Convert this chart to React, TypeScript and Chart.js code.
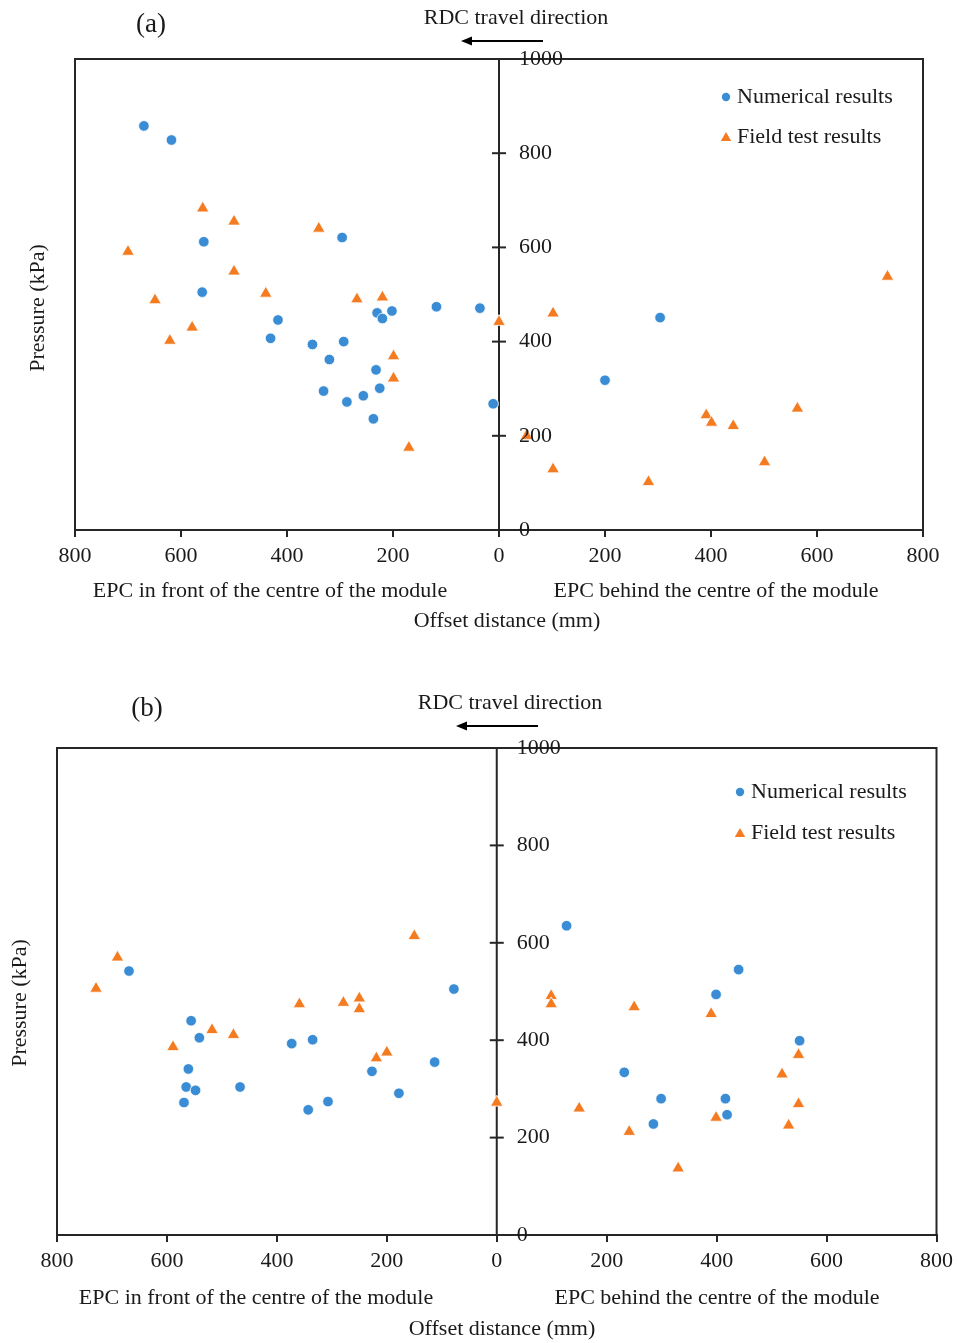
import React, { useEffect, useRef } from "react";
import { Chart, registerables } from "chart.js";

Chart.register(...registerables);

// ---------- Data (offset in mm: negative = in front of module centre; pressure in kPa) ----------
// Panel (a)
const aNumX = [-670, -618, -557, -296, -560, -230, -220, -202, -118, -36, -417, -431, -352, -293, -320, -232, -331, -225, -256, -287, -11, -237, 200, 304];
const aNumY = [858, 828, 612, 621, 505, 461, 449, 465, 474, 471, 446, 407, 394, 400, 362, 340, 295, 301, 285, 272, 268, 236, 318, 451];
const aFieldX = [-559, -500, -340, -700, -500, -649, -440, -268, -220, 0, -579, -621, -199, -199, -170, 733, 102, 52, 391, 401, 442, 563, 501, 102, 282];
const aFieldY = [683, 655, 640, 591, 549, 488, 502, 490, 494, 442, 430, 402, 369, 322, 175, 538, 460, 200, 244, 228, 221, 258, 144, 129, 102];

// Panel (b)
const bNumX = [-669, -78, -556, -541, -373, -335, -113, -561, -227, -565, -548, -467, -178, -307, -569, -343, 127, 440, 399, 551, 232, 299, 416, 419, 285];
const bNumY = [542, 505, 440, 405, 393, 401, 355, 341, 336, 304, 297, 304, 291, 274, 272, 257, 635, 545, 494, 399, 334, 280, 280, 247, 228];
const bFieldX = [-150, -690, -729, -359, -279, -250, -250, -518, -479, -589, -200, -219, 0, 99, 99, 250, 390, 549, 519, 549, 150, 399, 531, 241, 330];
const bFieldY = [614, 570, 506, 474, 477, 486, 464, 421, 411, 386, 375, 363, 272, 491, 474, 468, 454, 370, 330, 269, 260, 241, 225, 212, 137];

const xMin = -800;
const xMax = 800;
const xStep = 200;
const yMin = 0;
const yMax = 1000;
const yStep = 200;

const seriesNames = ["Numerical results", "Field test results"];
const xTitle = "Offset distance (mm)";
const yTitle = "Pressure (kPa)";
const frontLabel = "EPC in front of the centre of the module";
const behindLabel = "EPC behind the centre of the module";
const directionLabel = "RDC travel direction";

const BLUE = "#3a8dd4";
const ORANGE = "#f47b20";
const INK = "#1a1a1a";
const LINE = "#262626";
const FONT = '"Liberation Serif", "Times New Roman", serif';

type Layout = {
  height: number;
  padding: { top: number; left: number; right: number; bottom: number };
  panel: string;
  panelPos: [number, number];
  dirPos: [number, number];
  arrow: [number, number, number];
  epcY: number;
  frontX: number;
  behindX: number;
  titleX: number;
  titleY: number;
  yTitlePos: [number, number];
  legendX: number;
  legendY: [number, number];
};

function drawTriangle(ctx: CanvasRenderingContext2D, x: number, y: number, r: number) {
  ctx.beginPath();
  ctx.moveTo(x, y - r);
  ctx.lineTo(x + r * 0.866, y + r * 0.5);
  ctx.lineTo(x - r * 0.866, y + r * 0.5);
  ctx.closePath();
  ctx.fill();
}

function makeDecor(L: Layout) {
  return {
    id: "decor",
    beforeDatasetsDraw(chart: any) {
      const ctx: CanvasRenderingContext2D = chart.ctx;
      const { left, right, top, bottom } = chart.chartArea;
      const xs = chart.scales.x;
      const ys = chart.scales.y;
      ctx.save();
      ctx.strokeStyle = LINE;
      ctx.lineWidth = 2;
      ctx.strokeRect(left, top, right - left, bottom - top);
      const x0 = xs.getPixelForValue(0);
      ctx.beginPath();
      ctx.moveTo(x0, top);
      ctx.lineTo(x0, bottom);
      ctx.stroke();
      ys.ticks.forEach((t: any) => {
        const y = ys.getPixelForValue(t.value);
        ctx.beginPath();
        ctx.moveTo(x0 - 7, y);
        ctx.lineTo(x0 + 7, y);
        ctx.stroke();
      });
      ctx.restore();
    },
    afterDatasetsDraw(chart: any) {
      const ctx: CanvasRenderingContext2D = chart.ctx;
      const xs = chart.scales.x;
      const ys = chart.scales.y;
      const x0 = xs.getPixelForValue(0);
      ctx.save();
      ctx.fillStyle = INK;
      ctx.font = `22px ${FONT}`;
      ctx.textAlign = "left";
      ctx.textBaseline = "middle";
      ys.ticks.forEach((t: any) => {
        ctx.fillText(String(t.value), x0 + 20, ys.getPixelForValue(t.value));
      });

      // legend
      ctx.fillStyle = BLUE;
      ctx.beginPath();
      ctx.arc(L.legendX, L.legendY[0], 4.2, 0, Math.PI * 2);
      ctx.fill();
      ctx.fillStyle = ORANGE;
      drawTriangle(ctx, L.legendX, L.legendY[1] + 1, 6);
      ctx.fillStyle = INK;
      ctx.fillText(seriesNames[0], L.legendX + 11, L.legendY[0]);
      ctx.fillText(seriesNames[1], L.legendX + 11, L.legendY[1]);

      // bottom labels
      ctx.textAlign = "center";
      ctx.fillText(frontLabel, L.frontX, L.epcY);
      ctx.fillText(behindLabel, L.behindX, L.epcY);
      ctx.fillText(xTitle, L.titleX, L.titleY);
      ctx.fillText(directionLabel, L.dirPos[0], L.dirPos[1]);

      // y title
      ctx.save();
      ctx.translate(L.yTitlePos[0], L.yTitlePos[1]);
      ctx.rotate(-Math.PI / 2);
      ctx.fillText(yTitle, 0, 0);
      ctx.restore();

      // panel label
      ctx.font = `27px ${FONT}`;
      ctx.fillText(L.panel, L.panelPos[0], L.panelPos[1]);

      // arrow
      const [ax1, ax2, ay] = L.arrow;
      ctx.strokeStyle = "#000";
      ctx.fillStyle = "#000";
      ctx.lineWidth = 2;
      ctx.beginPath();
      ctx.moveTo(ax2, ay);
      ctx.lineTo(ax1 + 8, ay);
      ctx.stroke();
      ctx.beginPath();
      ctx.moveTo(ax1, ay);
      ctx.lineTo(ax1 + 11, ay - 4.5);
      ctx.lineTo(ax1 + 11, ay + 4.5);
      ctx.closePath();
      ctx.fill();
      ctx.restore();
    },
  };
}

function pts(xs: number[], ys: number[]) {
  return xs.map((x, i) => ({ x, y: ys[i] }));
}

function Panel(props: {
  layout: Layout;
  top: number;
  numX: number[];
  numY: number[];
  fieldX: number[];
  fieldY: number[];
}) {
  const ref = useRef<HTMLCanvasElement | null>(null);
  const { layout, numX, numY, fieldX, fieldY } = props;
  useEffect(() => {
    if (!ref.current) return;
    const chart = new Chart(ref.current, {
      type: "scatter",
      data: {
        datasets: [
          {
            label: seriesNames[0],
            data: pts(numX, numY),
            pointStyle: "circle",
            pointRadius: 5.3,
            backgroundColor: BLUE,
            borderColor: "#ffffff",
            borderWidth: 0.8,
            clip: false,
          } as any,
          {
            label: seriesNames[1],
            data: pts(fieldX, fieldY),
            pointStyle: "triangle",
            pointRadius: 7.2,
            backgroundColor: ORANGE,
            borderColor: "#ffffff",
            borderWidth: 0.8,
            clip: false,
          } as any,
        ],
      },
      options: {
        responsive: false,
        animation: false,
        devicePixelRatio: 1,
        layout: { padding: layout.padding },
        plugins: {
          legend: { display: false },
          tooltip: { enabled: false },
          title: { display: false },
        },
        scales: {
          x: {
            type: "linear",
            min: xMin,
            max: xMax,
            ticks: {
              stepSize: xStep,
              padding: 6,
              color: INK,
              font: { family: FONT, size: 22 },
              callback: (v: any) => String(Math.abs(Number(v))),
              maxRotation: 0,
              autoSkip: false,
            },
            grid: {
              drawOnChartArea: false,
              drawTicks: true,
              tickLength: 7,
              color: LINE,
              lineWidth: 2,
            },
            border: { display: true, color: LINE, width: 2 },
            afterFit: (scale: any) => {
              scale.height = 40;
            },
          },
          y: {
            type: "linear",
            min: yMin,
            max: yMax,
            display: false,
            ticks: { stepSize: yStep },
          },
        },
      } as any,
      plugins: [makeDecor(layout)],
    });
    return () => chart.destroy();
  }, []);
  return (
    <canvas
      ref={ref}
      width={959}
      height={layout.height}
      style={{ position: "absolute", left: 0, top: props.top, display: "block" }}
    />
  );
}

const layoutA: Layout = {
  height: 660,
  padding: { top: 59, left: 75, right: 36, bottom: 90 },
  panel: "(a)",
  panelPos: [151, 25],
  dirPos: [516, 18],
  arrow: [461, 543, 41],
  epcY: 591,
  frontX: 270,
  behindX: 716,
  titleX: 507,
  titleY: 621,
  yTitlePos: [38, 308],
  legendX: 726,
  legendY: [97, 137],
};

const layoutB: Layout = {
  height: 683,
  padding: { top: 88, left: 57, right: 22, bottom: 68 },
  panel: "(b)",
  panelPos: [147, 49],
  dirPos: [510, 43],
  arrow: [456, 538, 66],
  epcY: 638,
  frontX: 256,
  behindX: 717,
  titleX: 502,
  titleY: 669,
  yTitlePos: [20, 343],
  legendX: 740,
  legendY: [132, 173],
};

export default function App() {
  return (
    <div style={{ position: "absolute", left: 0, top: 0, width: 959, height: 1343, background: "#fff" }}>
      <Panel layout={layoutA} top={0} numX={aNumX} numY={aNumY} fieldX={aFieldX} fieldY={aFieldY} />
      <Panel layout={layoutB} top={660} numX={bNumX} numY={bNumY} fieldX={bFieldX} fieldY={bFieldY} />
    </div>
  );
}
